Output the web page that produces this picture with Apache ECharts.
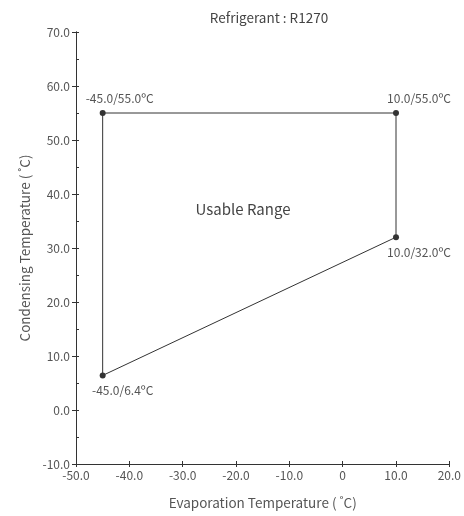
<!DOCTYPE html>
<html>
<head>
<meta charset="utf-8">
<script src="https://cdn.jsdelivr.net/npm/echarts@6/dist/echarts.min.js"></script>
<style>
  html, body { margin: 0; padding: 0; background: #fff; }
  #chart { width: 464px; height: 516px; }
</style>
</head>
<body>
<div id="chart"></div>
<script>
// Operating envelope corners (evaporation °C, condensing °C), drawn in order and closed
const evapTemps = [-45.0, -45.0, 10.0, 10.0, -45.0];
const condTemps = [6.4, 55.0, 55.0, 32.0, 6.4];
// Label placement for each corner: top / bottom
const cornerLabelPos = ['bottom', 'top', 'top', 'bottom', null];
const cornerLabelShift = [[20, 0], [17, 0], [23, 0], [23, 0], null];

const xAxisRange = { min: -50, max: 20, interval: 10 };
const yAxisRange = { min: -10, max: 70, interval: 10 };

const FONT = '"Noto Sans CJK SC", "Noto Sans", sans-serif';
const TEXT = '#555';
const LINE = '#333';

const fmtX = v => (v === 0 ? '0' : v.toFixed(1));
const fmtY = v => v.toFixed(1);

const cornerData = evapTemps.map((x, i) => {
  const item = { value: [x, condTemps[i]] };
  if (cornerLabelPos[i]) {
    item.label = {
      show: true,
      position: cornerLabelPos[i],
      offset: cornerLabelShift[i],
      distance: 6,
      formatter: p => p.value[0].toFixed(1) + '/' + p.value[1].toFixed(1) + 'ºC'
    };
  } else {
    item.symbolSize = 0;
  }
  return item;
});

const chart = echarts.init(document.getElementById('chart'));
const baseX = {
  type: 'value', ...xAxisRange,
  axisLine: { show: true, onZero: false, lineStyle: { color: LINE, width: 1 } },
  splitLine: { show: false }
};
const baseY = {
  type: 'value', ...yAxisRange,
  axisLine: { show: true, onZero: false, lineStyle: { color: LINE, width: 1 } },
  splitLine: { show: false }
};

chart.setOption({
  backgroundColor: '#fff',
  animation: false,
  textStyle: { fontFamily: FONT },
  title: {
    text: 'Refrigerant : R1270',
    left: 264, top: 6, textAlign: 'center',
    textStyle: { fontFamily: FONT, fontSize: 13.5, fontWeight: 'normal', color: '#444' }
  },
  grid: { left: 76, right: 12, top: 32, bottom: 52, containLabel: false },
  xAxis: [
    Object.assign({}, baseX, {
      position: 'bottom',
      name: 'Evaporation Temperature ( ˚C)',
      nameLocation: 'middle', nameGap: 32,
      nameTextStyle: { fontFamily: FONT, fontSize: 13.5, color: TEXT },
      axisTick: { show: true, length: 3, lineStyle: { color: LINE } },
      axisLabel: { fontFamily: FONT, fontSize: 12, color: TEXT, margin: 5, formatter: fmtX }
    }),
    Object.assign({}, baseX, {
      position: 'bottom',
      axisTick: { show: true, inside: true, length: 3, lineStyle: { color: LINE } },
      axisLabel: { show: false }
    })
  ],
  yAxis: [
    Object.assign({}, baseY, {
      position: 'left',
      name: 'Condensing Temperature ( ˚C)',
      nameLocation: 'middle', nameGap: 40,
      nameTextStyle: { fontFamily: FONT, fontSize: 13.5, color: TEXT },
      axisTick: { show: true, length: 4, lineStyle: { color: LINE } },
      axisLabel: { fontFamily: FONT, fontSize: 12, color: TEXT, margin: 6, formatter: fmtY }
    }),
    Object.assign({}, baseY, {
      position: 'left',
      axisTick: { show: true, inside: true, length: 3, lineStyle: { color: LINE } },
      minorTick: { show: true, splitNumber: 2, length: 3, lineStyle: { color: LINE } },
      axisLabel: { show: false }
    })
  ],
  graphic: [{
    type: 'text',
    x: 243, y: 209,
    style: {
      text: 'Usable Range',
      font: '15px ' + FONT,
      fill: '#444',
      textAlign: 'center',
      textVerticalAlign: 'middle'
    }
  }],
  series: [{
    type: 'line',
    xAxisIndex: 0, yAxisIndex: 0,
    data: cornerData,
    symbol: 'circle',
    symbolSize: 6,
    itemStyle: { color: LINE },
    lineStyle: { color: LINE, width: 1 },
    label: { fontFamily: FONT, fontSize: 12, color: TEXT },
    emphasis: { disabled: true }
  }]
});
</script>
</body>
</html>
